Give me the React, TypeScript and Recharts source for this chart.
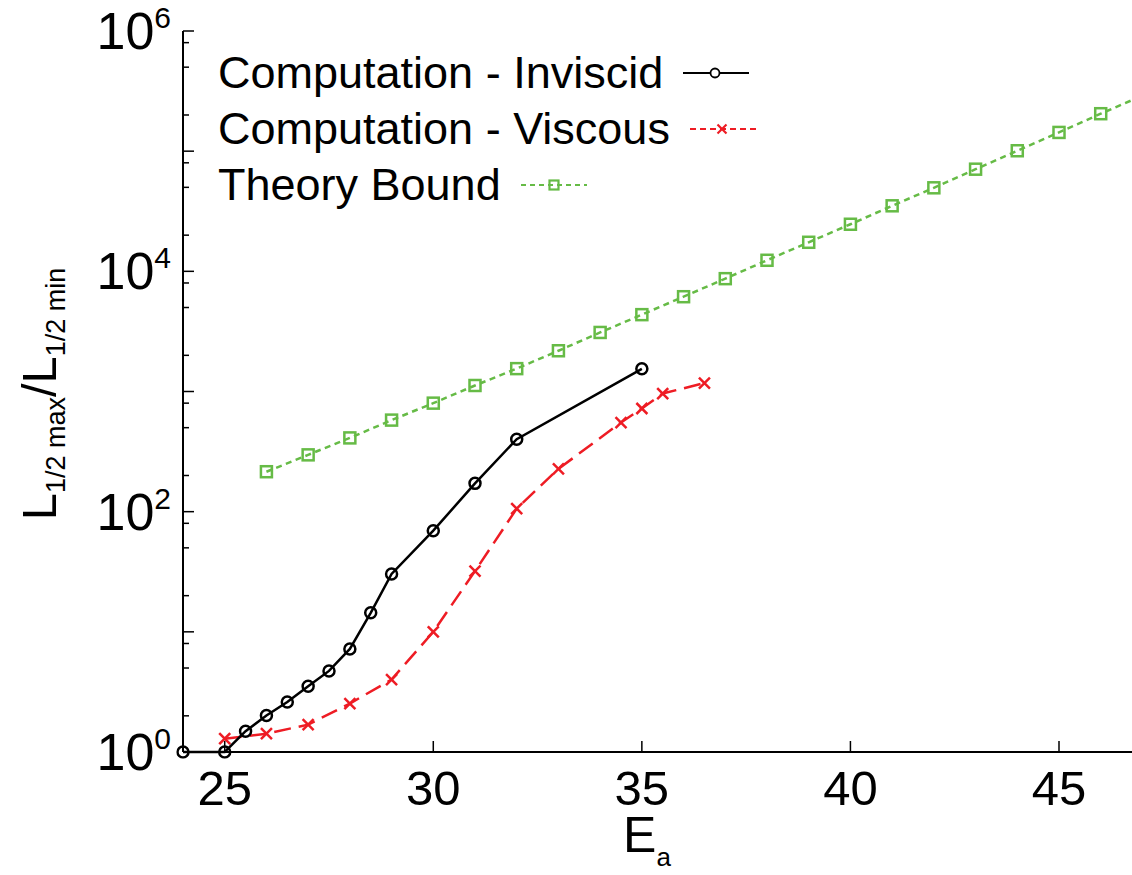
import { Legend, Line, LineChart, XAxis, YAxis } from "recharts"

const FONT = '"Liberation Sans", Arial, Helvetica, sans-serif'

// E_a values and L1/2max / L1/2min ratios
const inviscidE = [24, 25, 25.5, 26, 26.5, 27, 27.5, 28, 28.5, 29, 30, 31, 32, 35]
const inviscidRatio = [1, 1, 1.49, 2.01, 2.61, 3.53, 4.73, 7.2, 14.4, 30.3, 69.5, 172, 401, 1545]

const viscousE = [25, 26, 27, 28, 29, 30, 31, 32, 33, 34.5, 35, 35.5, 36.5]
const viscousRatio = [1.29, 1.42, 1.69, 2.53, 4.01, 10, 32, 106, 227, 552, 722, 962, 1175]

const theoryE = [26, 27, 28, 29, 30, 31, 32, 33, 34, 35, 36, 37, 38, 39, 40, 41, 42, 43, 44, 45, 46, 47]
const theoryRatio = [
  215, 297, 411, 578, 800, 1122, 1550, 2183, 3100, 4360, 6150, 8690, 12360, 17450, 24650, 35100,
  49550, 70800, 100800, 143200, 205000, 290000,
]

const xTicks = [25, 30, 35, 40, 45]
const yDecades = [1, 10, 100, 1000, 10000, 100000, 1000000]
const yMinor = [2, 5, 8]

const legendLabels = ["Computation - Inviscid", "Computation - Viscous", "Theory Bound"]

const BLACK = "#000000"
const RED = "#ee1c24"
const GREEN = "#66bb46"

const PLOT_LEFT = 183
const PLOT_TOP = 31
const PLOT_BOTTOM = 752

const toPoints = (es: number[], rs: number[]) => es.map((e, i) => ({ e, ratio: rs[i] }))

const inviscid = toPoints(inviscidE, inviscidRatio)
const viscous = toPoints(viscousE, viscousRatio)
const theory = toPoints(theoryE, theoryRatio)

const yTicks: number[] = []
yDecades.forEach((d, i) => {
  yTicks.push(d)
  if (i < yDecades.length - 1) yMinor.forEach((m) => yTicks.push(d * m))
})

function YTick({ y, payload }: any) {
  const lg = Math.log10(payload.value)
  const exp = Math.round(lg)
  const isDecade = Math.abs(lg - exp) < 1e-6
  return (
    <g>
      <line
        x1={PLOT_LEFT}
        x2={PLOT_LEFT + (isDecade ? 11 : 6)}
        y1={y}
        y2={y}
        stroke={BLACK}
        strokeWidth={1.5}
      />
      {isDecade && exp % 2 === 0 && (
        <text x={171} y={y + 18} textAnchor="end" fontSize={52} fontFamily={FONT} fill={BLACK}>
          10
          <tspan fontSize={30} dy={-21}>
            {exp}
          </tspan>
        </text>
      )}
    </g>
  )
}

function XTickBottom({ x, payload }: any) {
  return (
    <g>
      <line x1={x} x2={x} y1={PLOT_BOTTOM} y2={PLOT_BOTTOM - 11} stroke={BLACK} strokeWidth={1.5} />
      <text x={x} y={805} textAnchor="middle" fontSize={49} fontFamily={FONT} fill={BLACK}>
        {payload.value}
      </text>
    </g>
  )
}

function XTickTop({ x }: any) {
  return <line x1={x} x2={x} y1={PLOT_TOP} y2={PLOT_TOP + 10} stroke={BLACK} strokeWidth={1.5} />
}

function Cross({ cx, cy, size, color, width }: any) {
  const h = size / 2
  return (
    <g stroke={color} strokeWidth={width} fill="none">
      <line x1={cx - h} y1={cy - h} x2={cx + h} y2={cy + h} />
      <line x1={cx - h} y1={cy + h} x2={cx + h} y2={cy - h} />
    </g>
  )
}

function Square({ cx, cy, size, color, width }: any) {
  const h = size / 2
  return (
    <rect x={cx - h} y={cy - h} width={size} height={size} stroke={color} strokeWidth={width} fill="none" />
  )
}

const viscousDot = (p: any) => (
  <Cross key={`v-${p.index}`} cx={p.cx} cy={p.cy} size={11} color={RED} width={2.5} />
)

const theoryDot = (p: any) => (
  <Square key={`t-${p.index}`} cx={p.cx} cy={p.cy} size={11} color={GREEN} width={2.5} />
)

function KeySample({ index }: { index: number }) {
  return (
    <svg width={66} height={20} style={{ marginLeft: 20, overflow: "visible" }}>
      {index === 0 && (
        <>
          <line x1={0} x2={66} y1={10} y2={10} stroke={BLACK} strokeWidth={2} />
          <circle cx={32} cy={10} r={4.5} stroke={BLACK} strokeWidth={1.8} fill="#fff" />
        </>
      )}
      {index === 1 && (
        <>
          <line x1={0} x2={66} y1={10} y2={10} stroke={RED} strokeWidth={2} strokeDasharray="6 4" />
          <Cross cx={32} cy={10} size={9} color={RED} width={2.2} />
        </>
      )}
      {index === 2 && (
        <>
          <line x1={0} x2={66} y1={10} y2={10} stroke={GREEN} strokeWidth={2} strokeDasharray="5 4" />
          <Square cx={33} cy={10} size={9} color={GREEN} width={2.2} />
        </>
      )}
    </svg>
  )
}

function KeyContent() {
  return (
    <div style={{ fontFamily: FONT, fontSize: 45, color: BLACK }}>
      {legendLabels.map((label, i) => (
        <div key={label} style={{ display: "flex", alignItems: "center", height: 56, whiteSpace: "nowrap" }}>
          <span>{label}</span>
          <KeySample index={i} />
        </div>
      ))}
    </div>
  )
}

export default function App() {
  return (
    <div style={{ position: "absolute", left: 0, top: 0, width: 1132, height: 875, background: "#fff" }}>
      <LineChart
        width={1132}
        height={875}
        margin={{ top: PLOT_TOP, right: 0, bottom: 63, left: 0 }}
      >
        <XAxis
          type="number"
          dataKey="e"
          domain={[24, 46.75]}
          allowDataOverflow
          ticks={xTicks}
          interval={0}
          height={60}
          axisLine={{ stroke: BLACK, strokeWidth: 2 }}
          tickLine={false}
          tick={<XTickBottom />}
        />
        <XAxis
          xAxisId="top"
          orientation="top"
          type="number"
          dataKey="e"
          domain={[24, 46.75]}
          allowDataOverflow
          ticks={xTicks}
          interval={0}
          height={0}
          axisLine={{ stroke: BLACK, strokeWidth: 2 }}
          tickLine={false}
          tick={<XTickTop />}
        />
        <YAxis
          type="number"
          scale="log"
          domain={[1, 1000000]}
          ticks={yTicks}
          interval={0}
          width={PLOT_LEFT}
          axisLine={{ stroke: BLACK, strokeWidth: 2 }}
          tickLine={false}
          tick={<YTick />}
        />
        <Legend
          layout="vertical"
          align="center"
          verticalAlign="middle"
          content={<KeyContent />}
          wrapperStyle={{ top: 45, left: 218, width: 700 }}
        />
        <Line
          data={theory}
          dataKey="ratio"
          stroke={GREEN}
          strokeWidth={2.5}
          strokeDasharray="6 4.5"
          dot={theoryDot}
          isAnimationActive={false}
        />
        <Line
          data={viscous}
          dataKey="ratio"
          stroke={RED}
          strokeWidth={2.5}
          strokeDasharray="17 8"
          dot={viscousDot}
          isAnimationActive={false}
        />
        <Line
          data={inviscid}
          dataKey="ratio"
          stroke={BLACK}
          strokeWidth={2.5}
          dot={{ r: 5.5, stroke: BLACK, strokeWidth: 2.5, fill: "none", clipDot: false }}
          isAnimationActive={false}
        />
      </LineChart>
      <svg
        width={1132}
        height={875}
        style={{ position: "absolute", left: 0, top: 0, pointerEvents: "none" }}
      >
        <text
          x={56}
          y={394}
          transform="rotate(-90 56 394)"
          textAnchor="middle"
          fontFamily={FONT}
          fontSize={49}
          fill={BLACK}
        >
          L
          <tspan fontSize={27} dy={9}>
            1/2 max
          </tspan>
          <tspan dy={-9}>/L</tspan>
          <tspan fontSize={27} dy={9}>
            1/2 min
          </tspan>
        </text>
        <text x={647} y={852} textAnchor="middle" fontFamily={FONT} fontSize={50} fill={BLACK}>
          E
          <tspan fontSize={26} dy={14}>
            a
          </tspan>
        </text>
      </svg>
    </div>
  )
}
